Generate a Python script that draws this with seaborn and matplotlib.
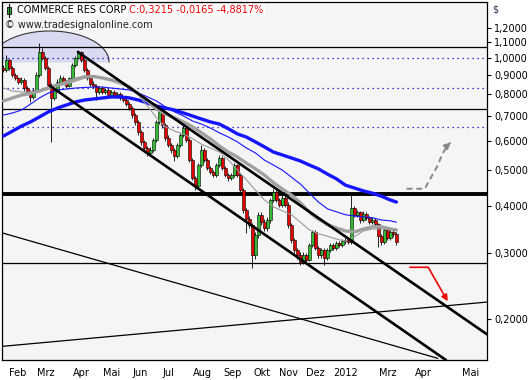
import numpy as np
import matplotlib
matplotlib.use("Agg")
import matplotlib.pyplot as plt
import matplotlib.transforms as mtransforms
from matplotlib.patches import Rectangle
import seaborn as sns

# daily candles (one slot per bar), prices in $
closes = [0.927, 0.985, 0.938, 0.898, 0.882, 0.861, 0.871, 0.829, 0.809, 0.785,
          0.819, 0.898, 1.035, 0.998, 0.938, 0.845, 0.780, 0.819, 0.861, 0.882,
          0.861, 0.840, 0.882, 0.955, 0.998, 1.035, 0.985, 0.927, 0.882, 0.850,
          0.840, 0.809, 0.829, 0.809, 0.819, 0.794, 0.809, 0.790, 0.799, 0.780,
          0.770, 0.751, 0.733, 0.702, 0.673, 0.633, 0.595, 0.573, 0.556, 0.566,
          0.603, 0.673, 0.716, 0.661, 0.610, 0.584, 0.566, 0.545, 0.584, 0.621,
          0.649, 0.603, 0.532, 0.476, 0.453, 0.516, 0.566, 0.532, 0.507, 0.494,
          0.485, 0.516, 0.539, 0.507, 0.485, 0.476, 0.485, 0.516, 0.485, 0.442,
          0.391, 0.371, 0.357, 0.297, 0.336, 0.380, 0.364, 0.350, 0.368, 0.416,
          0.437, 0.416, 0.404, 0.421, 0.404, 0.357, 0.326, 0.306, 0.297, 0.284,
          0.297, 0.288, 0.316, 0.342, 0.310, 0.297, 0.306, 0.291, 0.306, 0.316,
          0.310, 0.319, 0.316, 0.323, 0.326, 0.321, 0.396, 0.380, 0.386, 0.368,
          0.382, 0.373, 0.364, 0.368, 0.359, 0.334, 0.321, 0.346, 0.330, 0.342,
          0.338, 0.3215]
highs = [0.955, 1.016, 0.998, 0.950, 0.910, 0.890, 0.885, 0.880, 0.840, 0.819,
         0.829, 0.915, 1.094, 1.060, 1.010, 0.950, 0.855, 0.830, 0.875, 0.900,
         0.895, 0.870, 0.890, 0.965, 1.010, 1.048, 1.040, 0.995, 0.935, 0.890,
         0.865, 0.850, 0.840, 0.840, 0.829, 0.829, 0.819, 0.819, 0.809, 0.809,
         0.790, 0.780, 0.760, 0.740, 0.710, 0.680, 0.640, 0.603, 0.580, 0.575,
         0.610, 0.680, 0.724, 0.720, 0.670, 0.620, 0.590, 0.572, 0.590, 0.628,
         0.661, 0.655, 0.610, 0.540, 0.482, 0.522, 0.584, 0.572, 0.540, 0.512,
         0.500, 0.522, 0.549, 0.545, 0.512, 0.490, 0.492, 0.522, 0.520, 0.490,
         0.448, 0.396, 0.376, 0.362, 0.342, 0.386, 0.386, 0.370, 0.374, 0.421,
         0.445, 0.442, 0.421, 0.428, 0.426, 0.410, 0.362, 0.330, 0.310, 0.302,
         0.302, 0.300, 0.320, 0.346, 0.346, 0.314, 0.310, 0.310, 0.310, 0.320,
         0.320, 0.323, 0.323, 0.327, 0.330, 0.330, 0.429, 0.400, 0.392, 0.390,
         0.388, 0.386, 0.378, 0.374, 0.372, 0.362, 0.338, 0.350, 0.350, 0.346,
         0.346, 0.342]
lows = [0.915, 0.915, 0.927, 0.885, 0.870, 0.850, 0.850, 0.815, 0.800, 0.760,
        0.775, 0.810, 0.890, 0.985, 0.927, 0.835, 0.595, 0.770, 0.810, 0.850,
        0.850, 0.829, 0.835, 0.875, 0.945, 0.990, 0.975, 0.915, 0.870, 0.840,
        0.829, 0.770, 0.800, 0.800, 0.800, 0.785, 0.785, 0.780, 0.780, 0.770,
        0.760, 0.740, 0.724, 0.690, 0.661, 0.621, 0.584, 0.562, 0.545, 0.550,
        0.560, 0.595, 0.665, 0.650, 0.600, 0.575, 0.555, 0.530, 0.540, 0.578,
        0.615, 0.595, 0.525, 0.470, 0.442, 0.448, 0.510, 0.525, 0.500, 0.487,
        0.478, 0.480, 0.510, 0.500, 0.478, 0.468, 0.470, 0.480, 0.478, 0.436,
        0.385, 0.340, 0.350, 0.274, 0.290, 0.330, 0.357, 0.344, 0.344, 0.362,
        0.410, 0.410, 0.398, 0.398, 0.398, 0.350, 0.320, 0.300, 0.290, 0.279,
        0.280, 0.282, 0.285, 0.312, 0.305, 0.292, 0.292, 0.279, 0.288, 0.302,
        0.305, 0.306, 0.312, 0.312, 0.318, 0.318, 0.318, 0.375, 0.375, 0.362,
        0.364, 0.368, 0.358, 0.360, 0.354, 0.312, 0.316, 0.318, 0.325, 0.326,
        0.332, 0.316]
first_open = 0.940

ma_slots = list(range(0, 132, 3)) + [131]
ma_long = [0.617, 0.636, 0.656, 0.673, 0.694, 0.716, 0.733, 0.747, 0.761, 0.770,
           0.775, 0.780, 0.785, 0.785, 0.780, 0.770, 0.756, 0.742, 0.733, 0.724,
           0.711, 0.698, 0.685, 0.673, 0.664, 0.645, 0.625, 0.613, 0.595, 0.577,
           0.559, 0.549, 0.539, 0.529, 0.516, 0.504, 0.488, 0.474, 0.456, 0.448,
           0.440, 0.434, 0.426, 0.416, 0.411]
ma_mid = [0.702, 0.711, 0.724, 0.751, 0.780, 0.804, 0.819, 0.824, 0.829, 0.832,
          0.834, 0.834, 0.829, 0.824, 0.819, 0.804, 0.785, 0.766, 0.738, 0.716,
          0.698, 0.677, 0.664, 0.648, 0.629, 0.613, 0.595, 0.573, 0.556, 0.532,
          0.516, 0.500, 0.479, 0.459, 0.434, 0.411, 0.394, 0.387, 0.380, 0.377,
          0.375, 0.373, 0.368, 0.366, 0.363]
ma_slow = [0.766, 0.780, 0.794, 0.802, 0.814, 0.829, 0.845, 0.855, 0.871, 0.887,
           0.890, 0.882, 0.871, 0.855, 0.834, 0.799, 0.766, 0.729, 0.707, 0.690,
           0.673, 0.653, 0.629, 0.606, 0.580, 0.559, 0.542, 0.522, 0.504, 0.485,
           0.463, 0.445, 0.429, 0.409, 0.386, 0.370, 0.358, 0.350, 0.344, 0.342,
           0.348, 0.353, 0.353, 0.348, 0.346]
ma_fast = [0.829, 0.814, 0.809, 0.809, 0.819, 0.834, 0.850, 0.866, 0.882, 0.893,
           0.893, 0.882, 0.871, 0.861, 0.840, 0.794, 0.742, 0.690, 0.653, 0.636,
           0.625, 0.607, 0.587, 0.573, 0.559, 0.532, 0.500, 0.471, 0.442, 0.416,
           0.399, 0.389, 0.380, 0.363, 0.346, 0.338, 0.333, 0.327, 0.323, 0.332,
           0.344, 0.348, 0.348, 0.346, 0.346]

# drawing tools
solid_levels = [1.065, 0.728, 0.283]
dotted_levels = [1.0, 0.828, 0.653]
resistance = 0.432
channel_top = ([24.8, 161.2], [1.035, 0.182])
channel_bottom = ([15.5, 147.5], [0.840, 0.1554])
fan_down = ([-0.5, 144.8], [0.340, 0.157])
fan_up = ([-0.5, 161.2], [0.169, 0.222])
bull_path = ([134.4, 140.5, 141.5, 144.5, 146.5, 148.2], [0.446, 0.446, 0.462, 0.510, 0.556, 0.584])
bull_tip = (149.8, 0.600)
bear_path = ([135.5, 141.6, 147.0], [0.275, 0.275, 0.231])
bear_tip = (148.6, 0.220)
ellipse_center = (15.5, 0.973)

month_pos = [1.5, 10.8, 22.8, 32.8, 42.5, 52.5, 62.5, 72.8, 82.8, 91.5, 100.5,
             109.5, 124.8, 136.8, 152.5]
month_labels = ["Feb", "Mrz", "Apr", "Mai", "Jun", "Jul", "Aug", "Sep", "Okt",
                "Nov", "Dez", "2012", "Mrz", "Apr", "Mai"]
price_ticks = [0.2, 0.3, 0.4, 0.5, 0.6, 0.7, 0.8, 0.9, 1.0, 1.1, 1.2]

sns.set_style("white")
plt.rcParams["font.family"] = ["DejaVu Sans"]

fig = plt.figure(figsize=(5.31, 3.80), dpi=100)
ax = fig.add_axes([2 / 531, 20 / 380, 485 / 531, 358 / 380])
ax.set_facecolor("#f5f5f5")
ax.set_yscale("log")
ax.set_xlim(-0.5, 161.2)
ax.set_ylim(0.1554, 1.408)

# marked top zone
t = np.linspace(0, np.pi, 80)
ex = ellipse_center[0] + 19.7 * np.cos(t)
ey = np.exp(np.log(ellipse_center[1]) + 0.191 * np.sin(t))
ax.fill_between(ex, ellipse_center[1], ey, color="#d9d9f2", lw=0, zorder=1)
ax.plot(ex, ey, color="#333333", lw=0.8, zorder=1)

for lv in solid_levels:
    ax.axhline(lv, color="black", lw=0.9, zorder=2)
for lv in dotted_levels:
    ax.axhline(lv, color="#0000cc", lw=0.9, ls=(0, (1, 3)), zorder=2)
ax.axhline(resistance, color="black", lw=2.8, zorder=2)

# candles
slots = np.arange(len(closes))
opens = np.array([first_open] + closes[:-1])
c = np.array(closes)
up = c >= opens
colors = np.where(up, "#33bb33", "#e60000")
ax.vlines(slots, lows, highs, color="black", lw=0.6, zorder=3)
ax.bar(slots, np.abs(c - opens), bottom=np.minimum(c, opens), width=0.8,
       color=colors, edgecolor="black", linewidth=0.4, zorder=4)

# averages
sns.lineplot(x=ma_slots, y=ma_long, ax=ax, color="#1414ff", lw=2.4, zorder=5)
sns.lineplot(x=ma_slots, y=ma_mid, ax=ax, color="#1414ff", lw=0.8, zorder=5)
sns.lineplot(x=ma_slots, y=ma_slow, ax=ax, color="#a0a0a0", lw=2.4, zorder=5)
sns.lineplot(x=ma_slots, y=ma_fast, ax=ax, color="#9a9a9a", lw=0.8, zorder=5)

# trend lines
ax.plot(*channel_top, color="black", lw=1.9, zorder=6)
ax.plot(*channel_bottom, color="black", lw=1.9, zorder=6)
ax.plot(*fan_down, color="black", lw=0.9, zorder=6)
ax.plot(*fan_up, color="black", lw=0.9, zorder=6)

# scenario arrows
ax.plot(*bull_path, color="#888888", lw=1.4, ls=(0, (3, 2)), zorder=7)
ax.annotate("", xy=bull_tip, xytext=(bull_path[0][-1], bull_path[1][-1]),
            arrowprops=dict(arrowstyle="-|>", color="#888888", lw=1.4, mutation_scale=9),
            zorder=7)
ax.plot(*bear_path, color="#ee0000", lw=1.2, zorder=7)
ax.annotate("", xy=bear_tip, xytext=(bear_path[0][-1], bear_path[1][-1]),
            arrowprops=dict(arrowstyle="-|>", color="#ee0000", lw=1.2, mutation_scale=9),
            zorder=7)

# axes
for s in ax.spines.values():
    s.set_color("black")
    s.set_linewidth(0.9)
ax.yaxis.tick_right()
ax.yaxis.set_minor_locator(plt.NullLocator())
ax.set_yticks(price_ticks)
ax.set_yticklabels([f"{v:.4f}".replace(".", ",") for v in price_ticks])
ax.set_xticks(month_pos)
ax.set_xticklabels(month_labels, ha="left")
ax.tick_params(axis="y", direction="out", length=3, width=0.8, pad=2, labelsize=7, colors="black")
ax.tick_params(axis="x", direction="out", length=4, width=0.8, pad=2, labelsize=7, colors="black")
shift = mtransforms.ScaledTranslation(0.015, 0, fig.dpi_scale_trans)
for lbl in ax.get_xticklabels():
    lbl.set_transform(lbl.get_transform() + shift)
ax.set_xlabel("")
ax.set_ylabel("")

fig.text(492 / 531, 1 - 9 / 380, "$", fontsize=7, va="center", color="#223355")

# header
fig.add_artist(plt.Line2D([8.5 / 531, 8.5 / 531], [1 - 4 / 380, 1 - 17 / 380],
                          color="black", lw=0.8, transform=fig.transFigure))
fig.add_artist(Rectangle((6.5 / 531, 1 - 14 / 380), 4 / 531, 7 / 380, facecolor="#33bb33",
                         edgecolor="black", lw=0.6, transform=fig.transFigure))
name = fig.text(17 / 531, 1 - 10 / 380, "COMMERCE RES CORP", fontsize=7, va="center",
                color="black", bbox=dict(facecolor="white", edgecolor="none", pad=1))
ax.annotate(" C:0,3215 -0,0165 -4,8817%", xy=(1, 0.5), xycoords=name, va="center",
            fontsize=7, color="#ee0000", annotation_clip=False,
            bbox=dict(facecolor="white", edgecolor="none", pad=1))
fig.text(5 / 531, 1 - 25 / 380, "\u00a9 www.tradesignalonline.com", fontsize=7,
         va="center", color="#222222")

fig.savefig("out.png", dpi=100)
